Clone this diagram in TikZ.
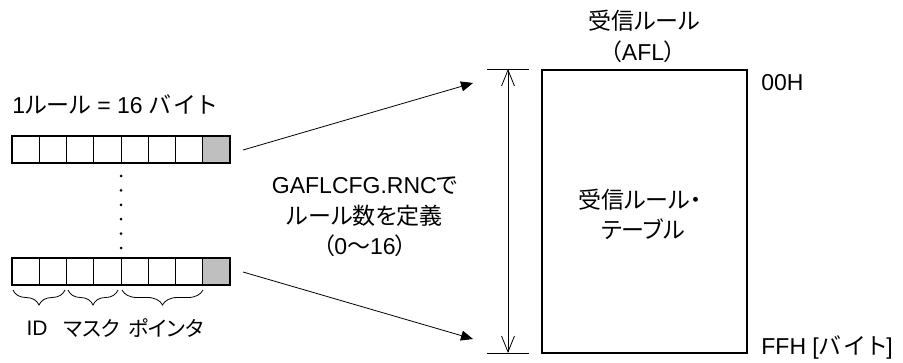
\documentclass[tikz,border=0pt]{standalone}
\usepackage{fontspec}
\setmainfont{Liberation Sans}
\newfontfamily\jp[RawFeature=+palt]{Noto Sans CJK JP}
\usetikzlibrary{arrows.meta, decorations.pathreplacing}

\begin{document}
\begin{tikzpicture}[x=0.5pt, y=-0.5pt, font=\fontsize{11.5}{14}\selectfont,
    lbl/.style={inner sep=0pt},
    fieldlbl/.style={inner sep=0pt, font=\fontsize{10.5}{12}\selectfont},
    fieldbrace/.style={decorate, decoration={brace, mirror, amplitude=7.5pt}},
    cellbar/.style={line width=1pt}]
\useasboundingbox (0,0) rectangle (903,363);

% one rule = 16 bytes
\node[lbl, anchor=west] (rulesize) at (12,104) {1{\jp ルール} = 16 {\jp バ\,イ\,ト}};

% first and last rule
\foreach \y in {136,258} {
    \fill[gray!50] (202.75,\y) rectangle (230,\y+27);
    \foreach \i in {1,...,7}
        \draw (12+27.25*\i,\y) -- ++(0,27);
    \draw[cellbar] (12,\y) rectangle (230,\y+27);
}
% dots in between
\foreach \d in {0,...,5}
    \fill (121,176+14.4*\d) circle (1.5);

% fields of a rule
\draw[fieldbrace] (13,290) -- (65,290);
\draw[fieldbrace] (68,290) -- (118,290);
\draw[fieldbrace] (122,290) -- (203,290);
\node[fieldlbl] (fid) at (37,328) {ID};
\node[fieldlbl] (fmask) at (92,328) {\jp マスク};
\node[fieldlbl] (fptr) at (166,328) {\jp ポインタ};

% arrows to the table
\coordinate (firstrule) at (243,150);
\coordinate (lastrule) at (243,272);
\coordinate (tabletop) at (473,83);
\coordinate (tablebot) at (473,339);
\draw[-{Triangle[length=6pt,width=5pt]}] (firstrule) -- (tabletop);
\draw[-{Triangle[length=6pt,width=5pt]}] (lastrule) -- (tablebot);
\node[lbl] (rnc1) at (365,186) {GAFLCFG.RNC{\jp で}};
\node[lbl] (rnc2) at (365,216) {\jp ルール数を定義};
\node[lbl] (rnc3) at (365,246) {{\jp （}0{\jp ～}16{\jp ）}};

% size of the table
\coordinate (dimtop) at (508,69);
\coordinate (dimbot) at (508,353);
\draw (487,69) -- (529,69);
\draw (487,353) -- (529,353);
\draw[{Straight Barb[length=8pt,width=6.5pt]}-{Straight Barb[length=8pt,width=6.5pt]}] (dimtop) -- (dimbot);

% receive rule table
\draw[cellbar] (542,70) rectangle (747,353);
\node[lbl] (afl1) at (644,21) {\jp 受信ルール};
\node[lbl] (afl2) at (643,52) {{\jp （}AFL{\jp ）}};
\node[lbl] (tbl1) at (640,200) {\jp 受信ルール・};
\node[lbl] (tbl2) at (643,229) {\jp テーブル};
\node[lbl, anchor=west] (addr0) at (761,83) {00H};
\node[lbl, anchor=west] (addr1) at (761,347) {FFH [{\jp バ\,イ\,ト}]};
\end{tikzpicture}
\end{document}
